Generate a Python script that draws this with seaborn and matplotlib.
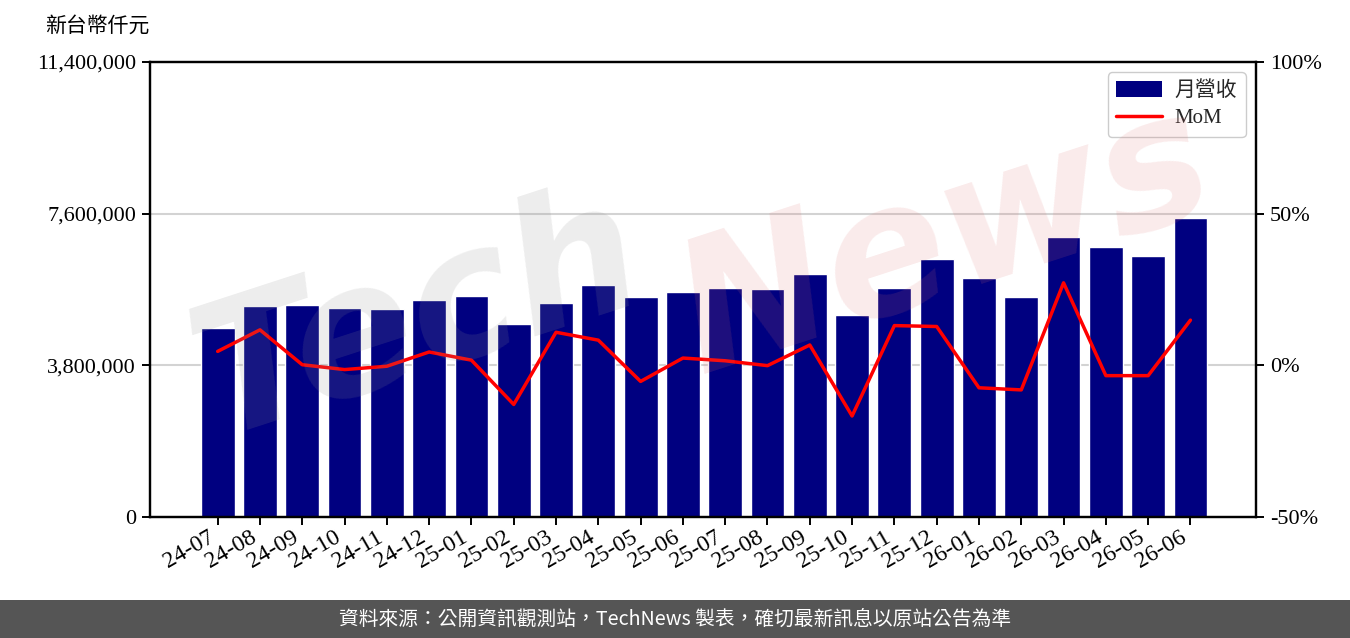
import numpy as np
import pandas as pd
import matplotlib
matplotlib.use("Agg")
import matplotlib.pyplot as plt
import seaborn as sns
from matplotlib.lines import Line2D
from matplotlib.patches import Patch, Rectangle
from matplotlib.ticker import FuncFormatter

months = ["24-07", "24-08", "24-09", "24-10", "24-11", "24-12",
          "25-01", "25-02", "25-03", "25-04", "25-05", "25-06",
          "25-07", "25-08", "25-09", "25-10", "25-11", "25-12",
          "26-01", "26-02", "26-03", "26-04", "26-05", "26-06"]
revenue = [4735000, 5287000, 5310000, 5236000, 5210000, 5437000,
           5537000, 4836000, 5362000, 5813000, 5512000, 5637000,
           5738000, 5713000, 6088000, 5061000, 5738000, 6464000,
           5988000, 5512000, 7015000, 6765000, 6539000, 7491000]
mom = [4.6, 11.7, 0.2, -1.4, -0.3, 4.4,
       1.7, -12.9, 10.9, 8.3, -5.3, 2.4,
       1.5, -0.1, 6.7, -16.7, 13.1, 12.8,
       -7.4, -8.1, 27.2, -3.4, -3.4, 14.9]
left_ticks = [0, 3800000, 7600000, 11400000]
right_ticks = [-50, 0, 50, 100]

sns.set_theme(style="white")
plt.rcParams['font.family'] = ['Liberation Serif', 'Noto Sans CJK TC']
plt.rcParams['axes.unicode_minus'] = False

df = pd.DataFrame({"month": months, "revenue": revenue, "mom": mom,
                   "pos": np.arange(len(months))})

fig = plt.figure(figsize=(13.5, 6.38), dpi=100)
ax = fig.add_axes([150 / 1350, 1 - 517 / 638, (1256 - 150) / 1350, (517 - 62) / 638])

for y in left_ticks[1:3]:
    ax.axhline(y, color="#d3d3d3", lw=1.5, zorder=0)

sns.barplot(data=df, x="month", y="revenue", color="#000080", saturation=1,
            width=0.8, ax=ax, zorder=2)
ax.set_xlim(-1.6, 24.55)
ax.set_ylim(0, 11400000)
ax.set_yticks(left_ticks)
ax.yaxis.set_major_formatter(FuncFormatter(lambda v, p: f"{int(v):,}"))
ax.set_xlabel("")
ax.set_ylabel("")
ax.set_xticks(range(len(months)))
ax.set_xticklabels(months, rotation=30, ha="right", rotation_mode="default")

ax2 = ax.twinx()
sns.lineplot(data=df, x="pos", y="mom", color="red", lw=2.5, ax=ax2, zorder=3)
ax2.set_ylim(-50, 100)
ax2.set_yticks(right_ticks)
ax2.yaxis.set_major_formatter(FuncFormatter(lambda v, p: f"{int(v)}%"))
ax2.set_ylabel("")
ax2.set_xlabel("")
ax2.set_xlim(-1.6, 24.55)

for a in (ax, ax2):
    for s in a.spines.values():
        s.set_color("black")
        s.set_linewidth(1.6)
    a.tick_params(axis="both", which="major", direction="out", length=6,
                  width=1.4, color="black", labelsize=16, labelcolor="black")
ax.tick_params(axis="y", left=True, pad=4)
ax.tick_params(axis="x", bottom=True, pad=1, labelsize=17)
ax2.tick_params(axis="y", right=True, pad=4)
ax2.tick_params(axis="x", bottom=False)

handles = [Patch(facecolor="#000080", edgecolor="none"),
           Line2D([0], [0], color="red", lw=2.5)]
leg = ax2.legend(handles, ["月營收", "MoM"], loc="upper right", fontsize=15,
                 frameon=True, fancybox=True, framealpha=1, edgecolor="#cccccc",
                 handlelength=2.2, handleheight=0.8, handletextpad=0.6,
                 borderaxespad=0.5, labelspacing=0.35, borderpad=0.4)

# watermark
fig.text(0.31, 0.50, "Tech", fontsize=130, color="#909090", alpha=0.16,
         rotation=18, ha="center", va="center", fontstyle="italic",
         family="DejaVu Sans", fontweight="bold", zorder=10)
fig.text(0.70, 0.62, "News", fontsize=130, color="#e07070", alpha=0.14,
         rotation=18, ha="center", va="center", fontstyle="italic",
         family="DejaVu Sans", fontweight="bold", zorder=10)

fig.text(45 / 1350, 1 - 27 / 638, "新台幣仟元", fontsize=15, ha="left", va="center",
         color="black")

fig.patches.append(Rectangle((0, 0), 1, 38 / 638, transform=fig.transFigure,
                             facecolor="#555555", edgecolor="none", zorder=0))
fig.text(0.5, 19 / 638, "資料來源：公開資訊觀測站，TechNews 製表，確切最新訊息以原站公告為準",
         fontsize=14.2, color="white", ha="center", va="center",
         family=["Noto Sans CJK TC", "DejaVu Sans"])

fig.savefig("out.png", dpi=100, facecolor="white")
